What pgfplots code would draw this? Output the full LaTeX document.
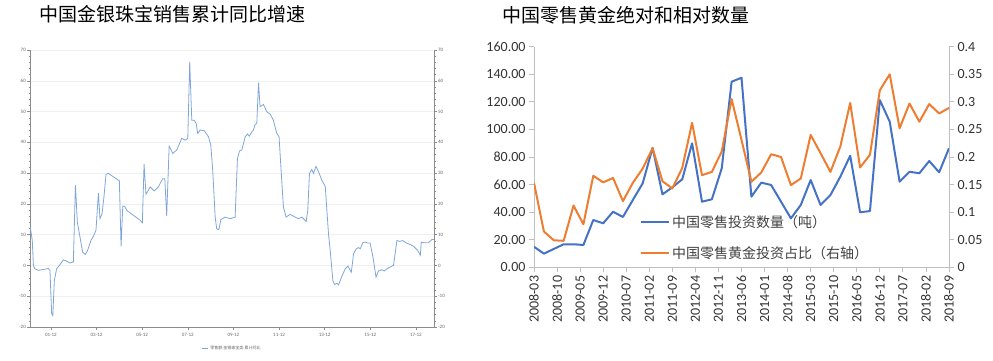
\documentclass[border=0pt]{standalone}
\usepackage{fontspec}
\usepackage{pgfplots}
\pgfplotsset{compat=1.18}
\setmainfont{Carlito}
\newfontfamily\cjk{Noto Sans CJK SC}
\definecolor{lblue}{HTML}{7FA6DA}
\definecolor{xblue}{HTML}{4472C4}
\definecolor{xorange}{HTML}{ED7D31}
\definecolor{axgrey}{HTML}{BFBFBF}

\pgfplotstableread{
m v
0 13.0
1.2 8.1
1.8 0
2.6 -1.1
4.4 -1.6
6 -1.4
8 -1.2
9.6 -1.0
10.5 -1.6
11.4 -15.7
12 -16.3
12.8 -4.9
14 -1.1
15.8 0.3
17.5 1.8
19.3 1.4
21 0.8
22.8 1.1
23.9 26.1
24.9 14.1
26.3 9.2
27.7 4.3
29 3.6
30.2 4.7
32 8.1
33.3 9.4
34.7 11.4
36 23.6
36.8 15.2
37.9 16.8
38.9 22.3
40 29.6
41.2 29.9
43.9 28.8
47 27.5
47.9 6.2
48.8 19.3
49.8 19.2
50.9 17.9
54.4 16.3
57.9 14.7
59.1 13.9
60 32.9
61 23.1
63.2 25.5
65.3 24.2
67.5 25.5
69.8 28.2
70.9 28.2
71.9 16.1
73.2 38.8
75.1 36.4
77.2 37.5
79.8 41.3
81.6 40.7
83 41.3
84 66.2
85.1 47.2
86.3 47.2
87.4 46.1
88.2 42.9
89.5 44
91.6 43.8
93.9 41.8
95.1 39.1
96.1 30.9
97.4 15.7
98.2 11.9
99.3 11.6
100.4 14.9
102.6 15.7
105.3 15.2
107.9 15.7
109.1 34.7
110.2 37.2
111.4 37.5
113.2 41.8
114.4 42.7
115.3 42
116.7 43.4
117.5 44
118.4 45.8
119.3 46.1
120.2 59.4
121 51.6
122.8 52.3
124.6 49.9
126.3 49.2
128 47.2
129.8 42.9
131 41.8
132.4 27.7
133.3 19
134.7 15.7
136.8 16.6
139.5 15.7
141.2 15.2
143 15.7
145.3 14.3
146.1 17.9
147 29.9
148.2 31.2
149.1 29.9
150.4 32.2
151.8 30.4
153.5 27.7
155.3 25.7
157 10.3
157.9 4.9
159.3 -4.9
160.2 -6.2
161.4 -5.8
162.3 -6.3
164 -3.6
165.8 -1.1
167.2 -0.2
169 -2.2
170.2 3.8
171.6 5.4
172.8 5.8
173.7 5.4
175.1 7.4
176.3 7.6
177.5 7.3
178.9 7.3
180.4 2.7
182 -3.8
183.3 -1.8
185.1 -1.4
186.3 -1.8
187.7 -1.1
189.5 -0.5
191.2 0
193 8.1
194.4 7.8
196.1 8.1
197.9 7.3
200 6.8
201.8 6.2
203.9 4.9
205.3 3.3
205.8 7.6
207 7.4
209.6 7.4
211.4 8.4
212.5 8.4
}\jewel

\pgfplotstableread{
x q r
0 14.9 0.153
3 9.9 0.065
6 13.3 0.049
9 16.7 0.048
12 16.7 0.112
15 16.2 0.078
18 34.3 0.166
21 31.9 0.154
24 40.3 0.162
27 36.5 0.120
30 48.8 0.153
33 60.9 0.179
36 86.7 0.216
39 52.9 0.156
42 58.0 0.143
45 63.8 0.180
48 89.9 0.262
51 47.6 0.167
54 49.3 0.173
57 71.8 0.210
60 134.6 0.305
63 137.5 0.231
66 51.2 0.155
69 61.4 0.172
72 59.7 0.205
75 47.6 0.200
78 35.5 0.149
81 45.2 0.161
84 63.3 0.240
87 45.2 0.207
90 52.4 0.173
93 65.7 0.219
96 80.9 0.298
99 39.9 0.181
102 40.8 0.204
105 121.3 0.321
108 105.6 0.350
111 62.1 0.252
114 69.3 0.297
117 68.2 0.264
120 77.1 0.296
123 68.9 0.279
126 86.3 0.289
}\gold

\begin{document}
\begin{tikzpicture}[x=1pt,y=1pt]
\path[use as bounding box] (0,0) rectangle (993,361);
\node[font=\cjk\fontsize{19}{19}\selectfont, inner sep=0] at (172.5,347) {中国金银珠宝销售累计同比增速};
\node[font=\cjk\fontsize{19}{19}\selectfont, inner sep=0] at (625.5,346) {中国零售黄金绝对和相对数量};

% ---------- left chart ----------
\begin{axis}[at={(30pt,34pt)}, anchor=south west, scale only axis,
  width=404pt, height=277pt,
  xmin=0, xmax=212.5, ymin=-20, ymax=70,
  axis x line*=bottom, axis y line*=left,
  axis line style={-, draw=black!45, line width=0.6pt},
  ytick={-20,-10,...,70}, minor y tick num=4,
  xtick={11,35,59,83,107,131,155,179,203},
  xticklabels={01-12,03-12,05-12,07-12,09-12,11-12,13-12,15-12,17-12},
  minor xtick={23,47,71,95,119,143,167,191},
  tick align=outside, major tick length=3pt, minor tick length=1.5pt,
  tick style={black!45, line width=0.4pt},
  ymajorgrids, grid style={black!6, line width=0.5pt},
  ticklabel style={font=\fontsize{5}{5}\selectfont, text=black!60},
  yticklabel style={inner sep=1pt},
  /pgf/number format/assume math mode=true,
  legend style={at={(0.5,-0.079)}, anchor=center, draw=none, fill=none,
    font=\cjk\fontsize{4}{4}\selectfont, text=black!60, inner sep=0pt},
  legend image code/.code={\draw[#1] (0pt,0pt) -- (6pt,0pt);},
]
\addplot[lblue, line width=0.8pt] table[x=m, y=v] {\jewel};
\addlegendentry{零售额:金银珠宝类:累计同比}
\end{axis}
\begin{axis}[at={(30pt,34pt)}, anchor=south west, scale only axis,
  width=404pt, height=277pt,
  xmin=0, xmax=212.5, ymin=-20, ymax=70,
  axis x line=none, axis y line*=right,
  axis line style={-, draw=black!45, line width=0.6pt},
  ytick={-20,-10,...,70}, minor y tick num=4,
  tick align=outside, major tick length=3pt, minor tick length=1.5pt,
  tick style={black!45, line width=0.4pt},
  ticklabel style={font=\fontsize{5}{5}\selectfont, text=black!60},
  yticklabel style={inner sep=1pt},
  /pgf/number format/assume math mode=true,
]
\addplot[draw=none] coordinates {(0,0)};
\end{axis}

% ---------- right chart ----------
\begin{axis}[at={(534pt,93.7pt)}, anchor=south west, scale only axis,
  width=415pt, height=220.6pt,
  xmin=0, xmax=126, ymin=0, ymax=160,
  axis x line*=bottom, axis y line*=left,
  axis line style={-, draw=axgrey, line width=0.9pt},
  ytick={0,20,...,160},
  yticklabel style={/pgf/number format/.cd, fixed, fixed zerofill, precision=2, assume math mode=true},
  xtick={0,7,...,126},
  xticklabels={2008-03,2008-10,2009-05,2009-12,2010-07,2011-02,2011-09,2012-04,2012-11,2013-06,2014-01,2014-08,2015-03,2015-10,2016-05,2016-12,2017-07,2018-02,2018-09},
  xticklabel style={rotate=90, anchor=east},
  tick align=outside, major tick length=5pt,
  tick style={axgrey, line width=0.9pt},
  ticklabel style={font=\fontsize{14}{14}\selectfont, text=black!80},
]
\addplot[xblue, line width=2pt, line join=round] table[x=x, y=q] {\gold};
\end{axis}
\begin{axis}[at={(534pt,93.7pt)}, anchor=south west, scale only axis,
  width=415pt, height=220.6pt,
  xmin=0, xmax=126, ymin=0, ymax=0.4,
  axis x line=none, axis y line*=right,
  axis line style={-, draw=axgrey, line width=0.9pt},
  ytick={0,0.05,0.1,0.15,0.2,0.25,0.3,0.35,0.4},
  yticklabels={0,0.05,0.1,0.15,0.2,0.25,0.3,0.35,0.4},
  yticklabel style={anchor=west},
  tick align=outside, major tick length=5pt,
  tick style={axgrey, line width=0.9pt},
  ticklabel style={font=\fontsize{14}{14}\selectfont, text=black!80},
  legend style={at={(0.2554,0.246)}, anchor=north west, draw=none, fill=none,
    font=\cjk\fontsize{14}{14}\selectfont, text=black!75, inner sep=0pt,
    row sep=14pt, legend cell align=left},
  legend image code/.code={\draw[#1] (0pt,0pt) -- (28pt,0pt);},
]
\addlegendimage{xblue, line width=2pt}
\addlegendentry{中国零售投资数量（吨）}
\addplot[xorange, line width=2pt, line join=round] table[x=x, y=r] {\gold};
\addlegendentry{中国零售黄金投资占比（右轴）}
\end{axis}
\end{tikzpicture}
\end{document}
